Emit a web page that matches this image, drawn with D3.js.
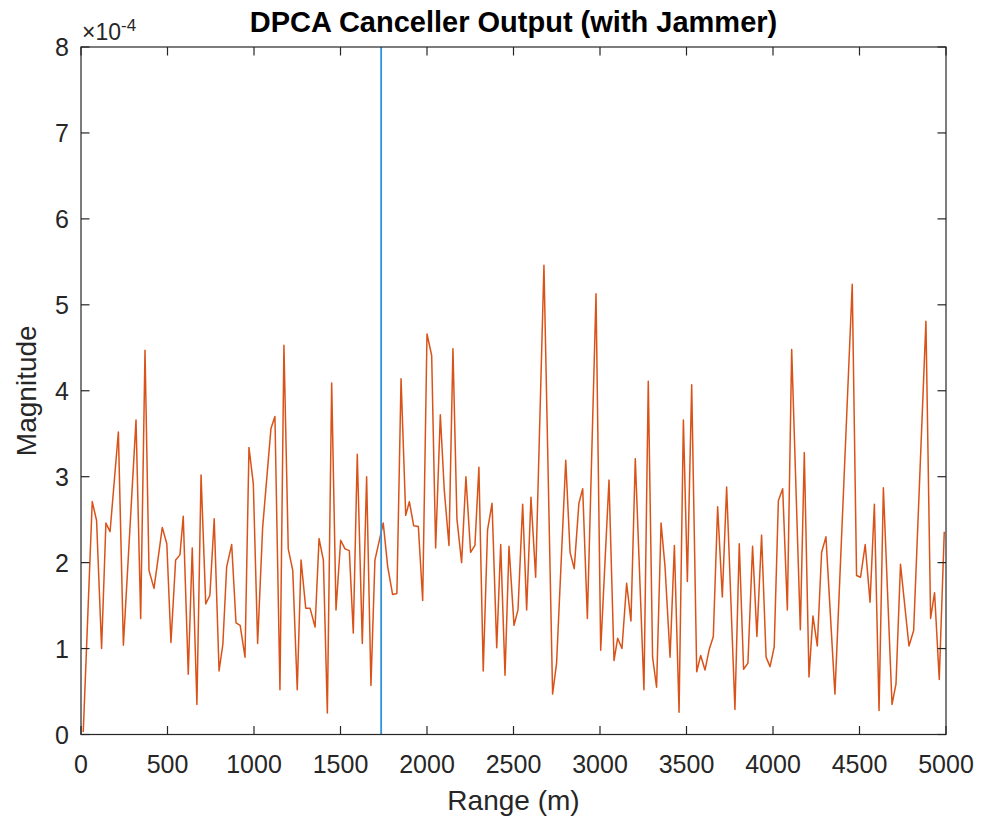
<!DOCTYPE html>
<html><head><meta charset="utf-8">
<script src="https://cdn.jsdelivr.net/npm/d3@7"></script>
<style>body{margin:0;background:#fff;} text{font-family:"Liberation Sans",Arial,Helvetica,sans-serif;}</style>
</head><body><svg id="c" width="982" height="823"></svg>
<script>
const rangeM = [13,65,90,119,144,168,216,245,318,345,370,393,422,470,496,520,547,572,591,620,643,670,694,721,745,770,798,820,842,871,896,920,948,971,996,1021,1050,1098,1121,1150,1173,1198,1224,1250,1272,1299,1324,1353,1376,1401,1424,1449,1474,1501,1526,1551,1574,1597,1626,1651,1676,1699,1747,1773,1801,1826,1850,1877,1898,1923,1950,1975,2000,2027,2050,2077,2100,2127,2150,2173,2200,2225,2252,2277,2300,2325,2350,2376,2403,2426,2451,2474,2503,2526,2553,2576,2601,2628,2676,2726,2749,2802,2827,2851,2878,2900,2927,2977,3004,3052,3081,3102,3127,3154,3179,3204,3254,3279,3304,3327,3353,3376,3405,3430,3457,3482,3505,3530,3559,3582,3607,3630,3655,3680,3707,3732,3780,3805,3830,3855,3882,3907,3934,3960,3983,4007,4031,4056,4083,4108,4158,4181,4208,4231,4256,4281,4306,4358,4458,4483,4506,4533,4561,4586,4613,4638,4688,4711,4737,4786,4813,4884,4911,4934,4961,4990];
const magnitude = [0.03,2.71,2.49,1.0,2.46,2.36,3.52,1.04,3.66,1.35,4.47,1.91,1.70,2.41,2.22,1.07,2.03,2.09,2.54,0.70,2.17,0.35,3.02,1.52,1.62,2.51,0.74,1.05,1.95,2.21,1.30,1.27,0.90,3.34,2.92,1.06,2.41,3.56,3.70,0.52,4.53,2.16,1.91,0.52,2.03,1.47,1.47,1.25,2.28,2.03,0.25,4.09,1.45,2.26,2.16,2.14,1.18,3.26,1.06,3.0,0.57,2.03,2.46,1.95,1.63,1.64,4.14,2.55,2.71,2.43,2.42,1.56,4.66,4.41,2.17,3.72,2.84,2.20,4.49,2.51,2.0,3.0,2.12,2.20,3.11,0.74,2.38,2.69,1.01,2.21,0.69,2.19,1.27,1.45,2.68,1.45,2.76,1.83,5.46,0.47,0.83,3.19,2.12,1.93,2.69,2.86,1.35,5.13,0.98,2.96,0.86,1.12,1.0,1.76,1.32,3.21,0.52,4.11,0.90,0.55,2.46,1.95,0.90,2.20,0.26,3.66,1.78,4.07,0.73,0.92,0.75,0.98,1.14,2.65,1.60,2.88,0.29,2.22,0.76,0.83,2.19,1.14,2.32,0.90,0.79,1.02,2.72,2.86,1.45,4.48,1.22,3.28,0.67,1.38,1.03,2.12,2.30,0.47,5.24,1.85,1.83,2.21,1.54,2.68,0.28,2.87,0.35,0.59,1.98,1.03,1.21,4.81,1.35,1.65,0.64,2.36];
const targetRange = 1735;
const xTicks = [0,500,1000,1500,2000,2500,3000,3500,4000,4500,5000];
const yTicks = [0,1,2,3,4,5,6,7,8];
const title = "DPCA Canceller Output (with Jammer)";
const xLabel = "Range (m)";
const yLabel = "Magnitude";

const L=81,R=946,T=47,B=734.5;
const svg=d3.select("#c");
const x=d3.scaleLinear().domain([0,5000]).range([L,R]);
const y=d3.scaleLinear().domain([0,8]).range([B,T]);
const axisColor="#262626";
const tl=8.5;
const tickFont=25, labelFont=28, titleFont=29;

const line=d3.line().x((d,i)=>x(rangeM[i])).y(d=>y(d));
svg.append("path").datum(magnitude).attr("d",line).attr("fill","none")
  .attr("stroke","#D95319").attr("stroke-width",1.5).attr("stroke-linejoin","round");
svg.append("line").attr("x1",x(targetRange)).attr("x2",x(targetRange))
  .attr("y1",y(0)).attr("y2",y(8)).attr("stroke","#3090dc").attr("stroke-width",1.8);

const g=svg.append("g");
g.append("rect").attr("x",L).attr("y",T).attr("width",R-L).attr("height",B-T)
  .attr("fill","none").attr("stroke",axisColor).attr("stroke-width",1.2);
xTicks.forEach(v=>{
  const px=x(v);
  g.append("line").attr("x1",px).attr("x2",px).attr("y1",B).attr("y2",B-tl).attr("stroke",axisColor).attr("stroke-width",1.2);
  g.append("line").attr("x1",px).attr("x2",px).attr("y1",T).attr("y2",T+tl).attr("stroke",axisColor).attr("stroke-width",1.2);
  g.append("text").attr("x",px).attr("y",B+38).attr("text-anchor","middle")
    .attr("font-size",tickFont).attr("fill",axisColor).text(v);
});
yTicks.forEach(v=>{
  const py=y(v);
  g.append("line").attr("x1",L).attr("x2",L+tl).attr("y1",py).attr("y2",py).attr("stroke",axisColor).attr("stroke-width",1.2);
  g.append("line").attr("x1",R).attr("x2",R-tl).attr("y1",py).attr("y2",py).attr("stroke",axisColor).attr("stroke-width",1.2);
  g.append("text").attr("x",L-12).attr("y",py).attr("dy","0.36em").attr("text-anchor","end")
    .attr("font-size",tickFont).attr("fill",axisColor).text(v);
});
const ex=g.append("text").attr("x",L+1).attr("y",T-7).attr("font-size",tickFont-2).attr("fill",axisColor);
ex.append("tspan").text("\u00d710");
ex.append("tspan").attr("dy",-9).attr("font-size",17).text("-4");
svg.append("text").attr("x",(L+R)/2).attr("y",32).attr("text-anchor","middle")
  .attr("font-size",titleFont).attr("font-weight","bold").attr("fill","#000").text(title);
svg.append("text").attr("x",(L+R)/2).attr("y",810).attr("text-anchor","middle")
  .attr("font-size",labelFont).attr("fill",axisColor).text(xLabel);
svg.append("text").attr("transform",`translate(36,${(T+B)/2}) rotate(-90)`).attr("text-anchor","middle")
  .attr("font-size",labelFont).attr("fill",axisColor).text(yLabel);
</script></body></html>
